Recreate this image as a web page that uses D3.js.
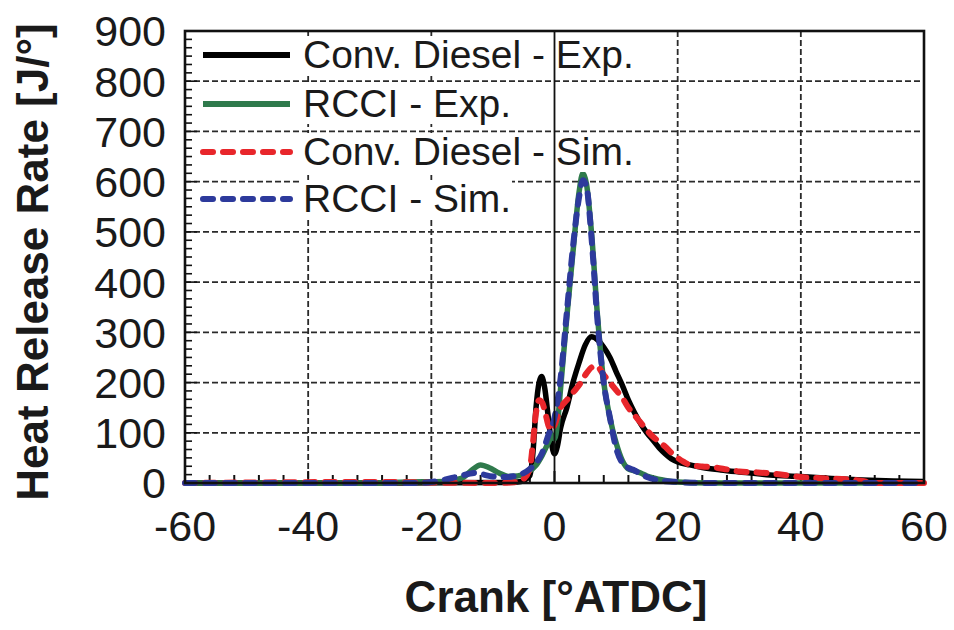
<!DOCTYPE html>
<html><head><meta charset="utf-8">
<script src="https://cdn.jsdelivr.net/npm/d3@7"></script>
<style>
html,body{margin:0;padding:0;background:#fff;}
svg{display:block;}
text{font-family:"Liberation Sans",Arial,sans-serif;}
</style></head>
<body>
<svg id="chart" width="954" height="630"></svg>
<script>
// ---- data ----
const xTicks = [-60, -40, -20, 0, 20, 40, 60];
const yTicks = [0, 100, 200, 300, 400, 500, 600, 700, 800, 900];
const seriesNames = ["Conv. Diesel - Exp.", "RCCI - Exp.", "Conv. Diesel - Sim.", "RCCI - Sim."];

const dieselExpX = [-60,-30,-10,-6,-5,-4,-3.5,-3,-2.5,-2.1,-1.6,-1,-0.5,0,0.5,1,2,3,4,5,6,7,8,9,10,11,12,13,14,15,16,17,18,19,20,22,24,27,30,35,40,45,50,55,60];
const dieselExpY = [0,0,1,2,5,15,60,150,200,212,190,130,80,58,75,110,150,200,240,275,291,285,270,250,222,195,165,140,118,100,85,70,58,48,42,36,31,26,22,16,13,9,6,4,3];

const rcciExpX = [-60,-30,-24,-18,-15,-13.5,-12,-10.5,-9,-7.5,-6,-4.5,-3,-2,-1,-0.3,0,0.5,1,2,3,4,4.6,5.2,6,7,8,9,10,11,12,13,14,15,16,18,20,25,60];
const rcciExpY = [0,0,2,3,10,25,36,30,20,13,14,20,35,55,80,95,88,120,190,330,460,580,617,595,500,330,200,130,80,45,28,24,20,14,10,5,2,0,0];

const dieselSimX = [-60,-30,-10,-6,-5,-4,-3.5,-3,-2.5,-2,-1.5,-1,-0.5,0,1,2,3,4,5,6,6.8,8,9,10,11,12,13,14,15,16,17,18,19,20,21,22,24,26,28,30,33,36,40,44,48,50,52,60];
const dieselSimY = [0,2,0,2,8,30,80,140,165,160,140,115,105,115,150,165,180,195,215,230,233,215,200,185,170,150,135,120,105,92,82,72,60,50,42,36,33,31,27,23,21,18,12,9,7,4,0,0];

const rcciSimX = [-60,-22,-20,-18,-16,-14,-13,-12,-10,-8,-6,-4,-3,-2,-1,0,1,2,3,4,4.6,5.2,6,7,8,9,10,11,12,13,14,15,17,20,25,60];
const rcciSimY = [0,0,2,6,12,18,20,18,13,12,15,28,40,60,95,130,210,340,470,570,603,590,490,320,200,130,70,40,30,25,18,12,5,2,0,0];

// ---- layout ----
const svg = d3.select("#chart");
const L = 185, R = 924, T = 31, B = 483;
const x = d3.scaleLinear().domain([-60, 60]).range([L, R]);
const y = d3.scaleLinear().domain([0, 900]).range([B, T]);

// grid
const grid = svg.append("g");
grid.selectAll("line.hg").data(yTicks.filter(v => v > 0 && v < 900)).join("line")
  .attr("x1", L).attr("x2", R).attr("y1", d => y(d)).attr("y2", d => y(d))
  .attr("stroke", "#2a2a2a").attr("stroke-width", 1.8).attr("stroke-dasharray", "6,3");
grid.selectAll("line.vg").data(xTicks.filter(v => v !== 0 && Math.abs(v) < 60)).join("line")
  .attr("y1", T).attr("y2", B).attr("x1", d => x(d)).attr("x2", d => x(d))
  .attr("stroke", "#2a2a2a").attr("stroke-width", 1.8).attr("stroke-dasharray", "6,3");

// minor ticks
const yMinor = d3.range(0, 900.01, 100 / 6);
svg.append("g").selectAll("line").data(yMinor).join("line")
  .attr("x1", L).attr("x2", (d) => L + (Math.abs(d / 100 - Math.round(d / 100)) < 1e-6 ? 12 : 7))
  .attr("y1", d => y(d)).attr("y2", d => y(d))
  .attr("stroke", "#111").attr("stroke-width", 1.6);
const xMinor = d3.range(-60, 60.01, 4);
svg.append("g").selectAll("line").data(xMinor).join("line")
  .attr("y1", B).attr("y2", d => B - (d % 20 === 0 ? 12 : 8))
  .attr("x1", d => x(d)).attr("x2", d => x(d))
  .attr("stroke", "#111").attr("stroke-width", 2);

const legendG = svg.append("g");
const rowY = [55, 104, 152, 199];
const colors = ["#000000", "#2f7a4c", "#e8262b", "#2d3a9c"];
const dashes = [null, null, "10,10", "10,10"];

// curves
const line = d3.line().x(d => x(d[0])).y(d => y(d[1])).curve(d3.curveMonotoneX);
const series = [
  [dieselExpX, dieselExpY],
  [rcciExpX, rcciExpY],
  [dieselSimX, dieselSimY],
  [rcciSimX, rcciSimY]
];
const curvesG = svg.append("g");
series.forEach((s, i) => {
  const pts = s[0].map((v, k) => [v, s[1][k]]);
  curvesG.append("path").datum(pts).attr("d", line)
    .attr("fill", "none").attr("stroke", colors[i])
    .attr("stroke-width", i < 2 ? 5.5 : 6)
    .attr("stroke-linecap", i < 2 ? "butt" : "round")
    .attr("stroke-linejoin", "round")
    .attr("stroke-dasharray", dashes[i]);
});

// legend
seriesNames.forEach((name, i) => {
  const t = legendG.append("text").attr("x", 303).attr("y", rowY[i] + 13)
    .attr("font-size", 39).attr("fill", "#1a1a1a").text(name);
  const bb = t.node().getBBox();
  legendG.insert("rect", "text").attr("x", bb.x - 3).attr("y", bb.y + 3)
    .attr("width", bb.width + 4).attr("height", bb.height - 4).attr("fill", "#fff");
  legendG.append("line").attr("x1", 203).attr("x2", 290).attr("y1", rowY[i]).attr("y2", rowY[i])
    .attr("stroke", colors[i]).attr("stroke-width", 6)
    .attr("stroke-linecap", i < 2 ? "butt" : "round")
    .attr("stroke-dasharray", dashes[i]);
});
legendG.raise();

// zero line
svg.append("line").attr("x1", x(0)).attr("x2", x(0)).attr("y1", T).attr("y2", B)
  .attr("stroke", "#111").attr("stroke-width", 1.8);

// frame
svg.append("rect").attr("x", L).attr("y", T).attr("width", R - L).attr("height", B - T)
  .attr("fill", "none").attr("stroke", "#111").attr("stroke-width", 2.6);

// axis labels
svg.append("g").selectAll("text").data(yTicks).join("text")
  .attr("x", 166).attr("y", d => y(d)).attr("dy", "0.36em")
  .attr("text-anchor", "end").attr("font-size", 43).attr("fill", "#1a1a1a")
  .text(d => d);
svg.append("g").selectAll("text").data(xTicks).join("text")
  .attr("x", d => x(d)).attr("y", 541)
  .attr("text-anchor", "middle").attr("font-size", 43).attr("fill", "#1a1a1a")
  .text(d => d);

svg.append("text").attr("transform", "translate(48,262) rotate(-90)")
  .attr("text-anchor", "middle").attr("font-size", 44).attr("font-weight", "bold")
  .attr("fill", "#1a1a1a").text("Heat Release Rate [J/°]");
svg.append("text").attr("x", 556).attr("y", 612)
  .attr("text-anchor", "middle").attr("font-size", 44).attr("font-weight", "bold")
  .attr("fill", "#1a1a1a").text("Crank [°ATDC]");
</script>
</body></html>
